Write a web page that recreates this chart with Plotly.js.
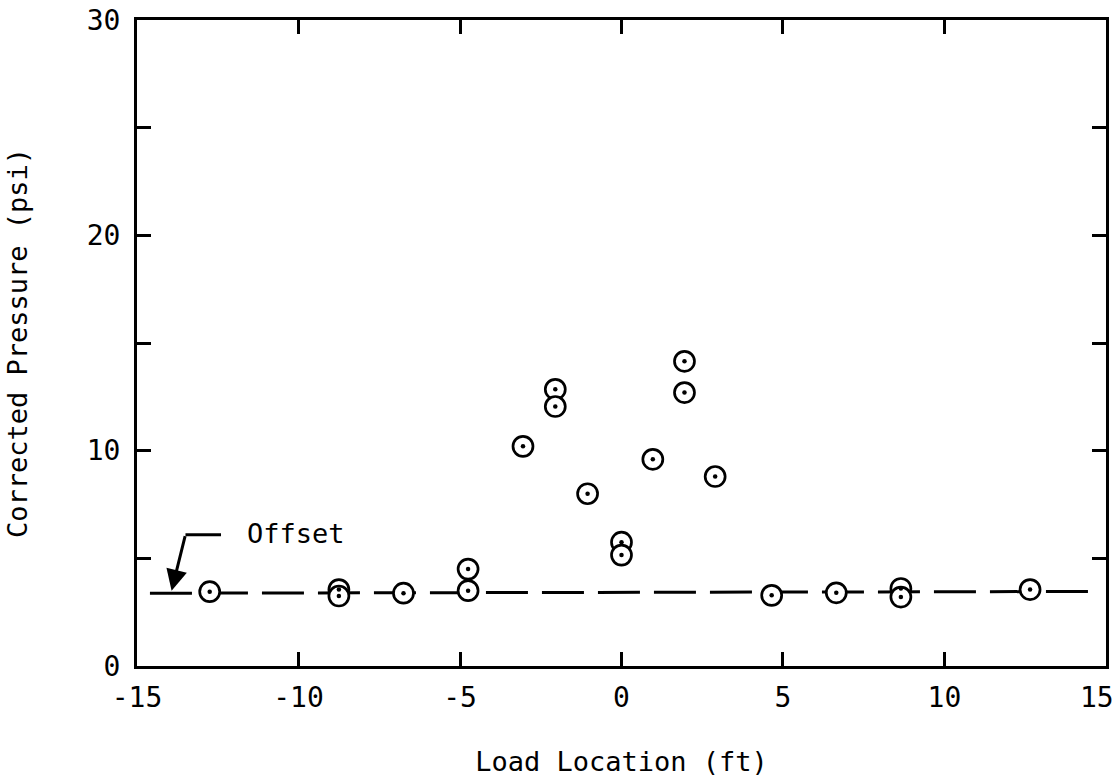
<!DOCTYPE html>
<html>
<head>
<meta charset="utf-8">
<script src="https://cdn.plot.ly/plotly-3.0.1.min.js"></script>
<style>html,body{margin:0;padding:0;background:#fff;}#chart{width:1119px;height:781px;}</style>
</head>
<body>
<div id="chart"></div>
<script>
// Measured data points: load location (ft) vs corrected pressure (psi)
var loadLocation = [-12.75, -8.75, -8.75, -6.75, -4.75, -4.75, -3.05, -2.05, -2.05, -1.05, 0, 0, 0.97, 1.95, 1.95, 2.9, 4.65, 6.65, 8.65, 8.65, 12.65];
var correctedPressure = [3.45, 3.55, 3.25, 3.38, 4.5, 3.5, 10.2, 12.85, 12.05, 8.0, 5.75, 5.15, 9.6, 14.15, 12.7, 8.8, 3.28, 3.4, 3.6, 3.2, 3.55];

// Offset reference line
var offsetX = [-14.6, 14.55];
var offsetY = [3.38, 3.46];

// Axis ticks (the last x label, at the frame's right edge, is drawn as an annotation so it stays inside the page)
var xTickVals = [-15, -10, -5, 0, 5, 10, 15];
var xTickText = ['-15', '-10', '-5', '0', '5', '10', ''];
var xLastTickVal = 15;
var xLastTickText = '15';
var yTickVals = [0, 5, 10, 15, 20, 25, 30];
var yTickText = ['0', '', '10', '', '20', '', '30'];

// Offset label / leader (data coords)
var labelText = 'Offset';
var labelPos = [-11.65, 6.15];
var leaderBend = [-13.5, 6.1];
var leaderEnd = [-12.4, 6.1];
var leaderTip = [-13.93, 3.5];

var FONT = 'DejaVu Sans Mono, monospace';

var traces = [
  {
    x: offsetX, y: offsetY, mode: 'lines', type: 'scatter',
    line: {color: '#000', width: 3, dash: '42px,14px'},
    hoverinfo: 'skip', showlegend: false
  },
  {
    x: loadLocation, y: correctedPressure, mode: 'markers', type: 'scatter',
    marker: {symbol: 'circle', size: 20, color: '#fff', line: {color: '#000', width: 2.7}},
    showlegend: false
  },
  {
    x: loadLocation, y: correctedPressure, mode: 'markers', type: 'scatter',
    marker: {symbol: 'circle', size: 4.5, color: '#000'},
    hoverinfo: 'skip', showlegend: false
  }
];

var layout = {
  width: 1119, height: 781,
  margin: {l: 137, r: 13, t: 20, b: 115},
  paper_bgcolor: '#fff', plot_bgcolor: '#fff',
  font: {family: FONT, size: 26, color: '#000'},
  xaxis: {
    range: [-15.001, 15.001], tickvals: xTickVals, ticktext: xTickText,
    showgrid: false, zeroline: false,
    showline: true, linewidth: 3, linecolor: '#000', mirror: 'ticks',
    ticks: 'inside', ticklen: 14, tickwidth: 3, tickcolor: '#000',
    ticklabelstandoff: 4,
    tickfont: {family: FONT, size: 28, color: '#000'},
    title: {text: 'Load Location (ft)', font: {family: FONT, size: 27, color: '#000'}, standoff: 40}
  },
  yaxis: {
    range: [0, 30], tickvals: yTickVals, ticktext: yTickText,
    showgrid: false, zeroline: false,
    showline: true, linewidth: 3, linecolor: '#000', mirror: 'ticks',
    ticks: 'inside', ticklen: 14, tickwidth: 3, tickcolor: '#000',
    ticklabelstandoff: 8, ticklabeloverflow: 'allow',
    tickfont: {family: FONT, size: 28, color: '#000'},
    title: {text: 'Corrected Pressure (psi)', font: {family: FONT, size: 27, color: '#000'}, standoff: 52}
  },
  shapes: [
    {type: 'line', xref: 'x', yref: 'y', x0: leaderBend[0], y0: leaderBend[1], x1: leaderEnd[0], y1: leaderEnd[1],
     line: {color: '#000', width: 3}}
  ],
  annotations: [
    {x: labelPos[0], y: labelPos[1], xref: 'x', yref: 'y', text: labelText, showarrow: false,
     xanchor: 'left', yanchor: 'middle', font: {family: FONT, size: 27, color: '#000'}},
    {x: leaderTip[0], y: leaderTip[1], xref: 'x', yref: 'y', ax: leaderBend[0], ay: leaderBend[1],
     axref: 'x', ayref: 'y', text: '', showarrow: true, arrowhead: 2, arrowsize: 1.4, arrowwidth: 3, arrowcolor: '#000'},
    {x: xLastTickVal, y: 0, xref: 'x', yref: 'paper', text: xLastTickText, showarrow: false,
     xanchor: 'center', yanchor: 'middle', xshift: -9, yshift: -31,
     font: {family: FONT, size: 28, color: '#000'}}
  ]
};

Plotly.newPlot('chart', traces, layout, {displayModeBar: false, staticPlot: true});
</script>
</body>
</html>
